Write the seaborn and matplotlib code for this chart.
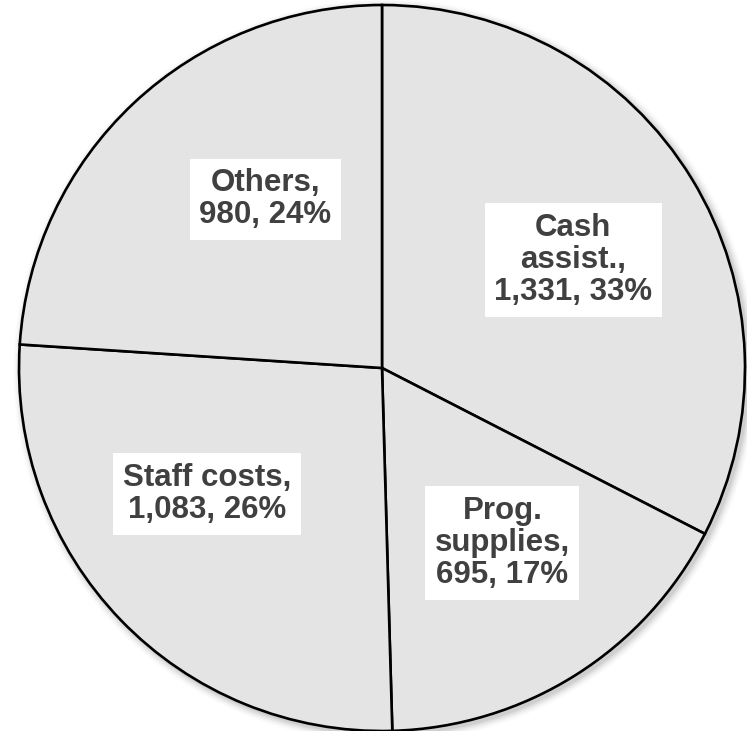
import numpy as np
import matplotlib.pyplot as plt
import matplotlib.patches as mpatches
import seaborn as sns

# ==================== Data ====================
categories = ['Cash\nassist.', 'Prog.\nsupplies', 'Staff costs', 'Others']
values = [1331, 695, 1083, 980]
percent_labels = ['33%', '17%', '26%', '24%']

# label placement: radius (fraction of pie) and angle tweak from wedge middle
label_radius = [0.605, 0.585, 0.594, 0.565]
label_angle_shift = [-1.9, 2.3, -8.2, -8.5]

sns.set_theme(style='white')
plt.rcParams['font.family'] = ['Liberation Sans', 'DejaVu Sans']

fig = plt.figure(figsize=(7.47, 7.31), dpi=100)
ax = fig.add_axes([0, 0, 1, 1])

R_PX = 363.0
cx, cy = 382.0, 368.0

# soft shadow below/right of pie
for i, a in enumerate(np.linspace(0.05, 0.012, 6)):
    sh = mpatches.Circle((0.008, -0.008), 1.0 + 0.004 * (i + 1), color='black',
                         alpha=a, lw=0, zorder=0)
    ax.add_patch(sh)

wedges, _ = ax.pie(values, startangle=90, counterclock=False, radius=1.0,
                   colors=['#e4e4e4'] * len(values),
                   wedgeprops=dict(edgecolor='black', linewidth=1.9),
                   frame=False)
ax.set_xlim(-cx / R_PX, (747 - cx) / R_PX)
ax.set_ylim(-(731 - cy) / R_PX, cy / R_PX)
ax.set_aspect('equal')
ax.axis('off')
for w in wedges:
    w.set_zorder(2)
    w.set_clip_on(False)

for w, cat, v, p, r, d in zip(wedges, categories, values, percent_labels,
                              label_radius, label_angle_shift):
    mid = np.deg2rad((w.theta1 + w.theta2) / 2 + d)
    x, y = r * np.cos(mid), r * np.sin(mid)
    txt = f"{cat},\n{v:,}, {p}"
    ax.text(x, y, txt, ha='center', va='center', fontsize=22.5, fontweight='bold',
            color='#404040', linespacing=1.1, zorder=5,
            bbox=dict(boxstyle='square,pad=0.3', fc='white', ec='none'))

fig.savefig('out.png', dpi=100)
plt.close(fig)
